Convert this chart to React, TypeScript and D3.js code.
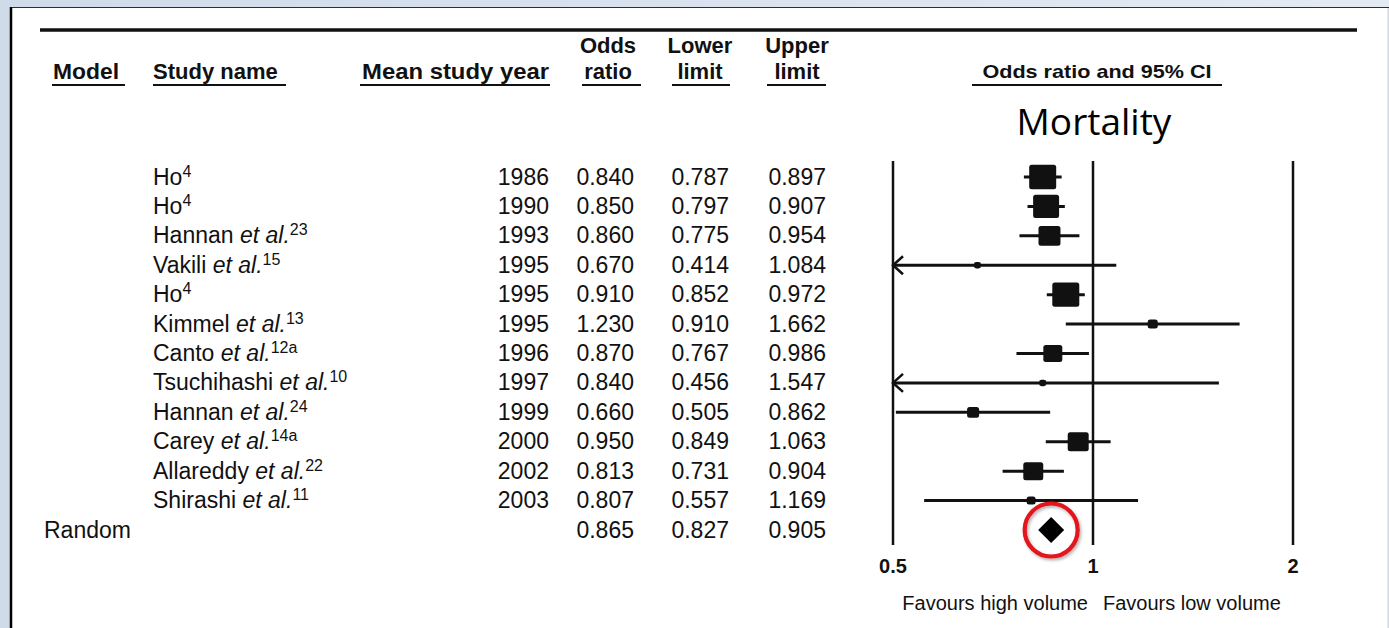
import React from "react";
import * as d3 from "d3";

const authors = ["Ho", "Ho", "Hannan", "Vakili", "Ho", "Kimmel", "Canto", "Tsuchihashi", "Hannan", "Carey", "Allareddy", "Shirashi"];
const etAl = [false, false, true, true, false, true, true, true, true, true, true, true];
const refs = ["4", "4", "23", "15", "4", "13", "12a", "10", "24", "14a", "22", "11"];
const years = [1986, 1990, 1993, 1995, 1995, 1995, 1996, 1997, 1999, 2000, 2002, 2003];
const oddsRatios = [0.84, 0.85, 0.86, 0.67, 0.91, 1.23, 0.87, 0.84, 0.66, 0.95, 0.813, 0.807];
const lowerLimits = [0.787, 0.797, 0.775, 0.414, 0.852, 0.91, 0.767, 0.456, 0.505, 0.849, 0.731, 0.557];
const upperLimits = [0.897, 0.907, 0.954, 1.084, 0.972, 1.662, 0.986, 1.547, 0.862, 1.063, 0.904, 1.169];
const weights = [17.2, 15.9, 11.4, 1.2, 17.2, 2.4, 8.5, 1.2, 3.4, 10.4, 9.4, 1.9];
const pooledLabel = "Random";
const pooledOR = 0.865;
const pooledLower = 0.827;
const pooledUpper = 0.905;
const xTicks = [0.5, 1, 2];
const outcomeTitle = "Mortality";
const favoursLeft = "Favours high volume";
const favoursRight = "Favours low volume";

const W = 1389;
const H = 628;
const FONT = "'Liberation Sans', Arial, Helvetica, sans-serif";
const INK = "#111";

export default function App() {
  const x = d3.scaleLog().base(2).domain([0.5, 2]).range([893, 1293]);
  const rows = d3.range(authors.length + 1);
  const y = d3.scalePoint<number>().domain(rows).range([177, 530]);
  const size = d3.scaleSqrt().domain([0, 17.2]).range([0, 27]);
  const fmt = d3.format(".3f");
  const [xMin, xMax] = x.domain();
  const plotTop = 161;
  const plotBottom = 545;
  const pooledY = y(authors.length) as number;

  const headerCols = [
    { top: "Odds", bottom: "ratio", cx: 608, u0: 582, u1: 641 },
    { top: "Lower", bottom: "limit", cx: 700, u0: 672, u1: 730 },
    { top: "Upper", bottom: "limit", cx: 797, u0: 767, u1: 826 },
  ];
  const numCols = [634, 729, 826];

  return (
    <svg
      width={W}
      height={H}
      style={{ position: "absolute", left: 0, top: 0, display: "block" }}
      fontFamily={FONT}
    >
      <defs>
        <linearGradient id="bg" x1="0" y1="0" x2="1" y2="0">
          <stop offset="0" stopColor="#cfdbe9" />
          <stop offset="1" stopColor="#e3eaf3" />
        </linearGradient>
        <filter id="shadow" x="-30%" y="-30%" width="160%" height="160%">
          <feDropShadow dx="1.5" dy="2" stdDeviation="1.5" floodColor="#000" floodOpacity="0.3" />
        </filter>
      </defs>
      <rect x={0} y={0} width={W} height={H} fill="url(#bg)" />
      <rect x={11} y={7} width={W - 12} height={H} fill="#fff" />
      <line x1={11} x2={W} y1={7.5} y2={7.5} stroke="#1f2d5a" strokeWidth={1} />
      <line x1={11} x2={11} y1={7} y2={H} stroke="#000" strokeWidth={2.5} />
      <line x1={W - 1} x2={W - 1} y1={8} y2={H} stroke="#cfcfcf" strokeWidth={1} />

      {/* top rule */}
      <line x1={40} x2={1357} y1={30} y2={30} stroke={INK} strokeWidth={3.5} />

      {/* headers */}
      <g fontWeight="bold" fontSize={22} fill={INK}>
        <text x={53} y={79} textLength={66} lengthAdjust="spacingAndGlyphs">Model</text>
        <text x={153} y={79}>Study name</text>
        <text x={362} y={79} textLength={187} lengthAdjust="spacingAndGlyphs">Mean study year</text>
        {headerCols.map((c, i) => (
          <g key={i}>
            <text x={c.cx} y={53} textAnchor="middle">{c.top}</text>
            <text x={c.cx} y={79} textAnchor="middle">{c.bottom}</text>
          </g>
        ))}
        <text
          transform={`translate(${(x(1) as number) + 4},78) scale(1.2,1)`}
          fontSize={18}
          textAnchor="middle"
        >
          Odds ratio and 95% CI
        </text>
      </g>
      <g stroke={INK} strokeWidth={2.2}>
        <line x1={52} x2={125} y1={85} y2={85} />
        <line x1={153} x2={286} y1={85} y2={85} />
        <line x1={360} x2={550} y1={85} y2={85} />
        {headerCols.map((c, i) => (
          <line key={i} x1={c.u0} x2={c.u1} y1={85} y2={85} />
        ))}
        <line x1={972} x2={1222} y1={85} y2={85} />
      </g>

      <text
        x={1094}
        y={135}
        fontFamily="'Open Sans', sans-serif"
        fontSize={37}
        textAnchor="middle"
        fill="#000"
      >
        {outcomeTitle}
      </text>

      {/* rows */}
      <g fontSize={23} fill={INK}>
        {authors.map((a, i) => {
          const yc = (y(i) as number) + 7.5;
          return (
            <g key={i}>
              <text x={153} y={yc}>
                {a}
                {etAl[i] ? <tspan fontStyle="italic"> et al.</tspan> : null}
                <tspan fontSize={16} dy={-8}>{refs[i]}</tspan>
              </text>
              <text x={549} y={yc} textAnchor="end">{years[i]}</text>
              <text x={numCols[0]} y={yc} textAnchor="end">{fmt(oddsRatios[i])}</text>
              <text x={numCols[1]} y={yc} textAnchor="end">{fmt(lowerLimits[i])}</text>
              <text x={numCols[2]} y={yc} textAnchor="end">{fmt(upperLimits[i])}</text>
            </g>
          );
        })}
        <text x={44} y={pooledY + 7.5}>{pooledLabel}</text>
        <text x={numCols[0]} y={pooledY + 7.5} textAnchor="end">{fmt(pooledOR)}</text>
        <text x={numCols[1]} y={pooledY + 7.5} textAnchor="end">{fmt(pooledLower)}</text>
        <text x={numCols[2]} y={pooledY + 7.5} textAnchor="end">{fmt(pooledUpper)}</text>
      </g>

      {/* reference lines */}
      <g stroke={INK} strokeWidth={2.5}>
        {xTicks.map((t) => (
          <line key={t} x1={x(t)} x2={x(t)} y1={plotTop} y2={plotBottom} />
        ))}
      </g>

      {/* CIs and squares */}
      <g>
        {authors.map((_, i) => {
          const yc = y(i) as number;
          const lo = Math.max(lowerLimits[i], xMin);
          const hi = Math.min(upperLimits[i], xMax);
          const x0 = x(lo) as number;
          const x1 = x(hi) as number;
          const s = size(weights[i]);
          const w = s;
          const h = s * 0.9;
          const cx = x(oddsRatios[i]) as number;
          return (
            <g key={i}>
              <line x1={x0} x2={x1} y1={yc} y2={yc} stroke={INK} strokeWidth={3} />
              {lowerLimits[i] < xMin ? (
                <path
                  d={`M${x0 + 10},${yc - 9}L${x0},${yc}L${x0 + 10},${yc + 9}`}
                  fill="none"
                  stroke={INK}
                  strokeWidth={2.5}
                />
              ) : null}
              {upperLimits[i] > xMax ? (
                <path
                  d={`M${x1 - 10},${yc - 9}L${x1},${yc}L${x1 - 10},${yc + 9}`}
                  fill="none"
                  stroke={INK}
                  strokeWidth={2.5}
                />
              ) : null}
              <rect
                x={cx - w / 2}
                y={yc - h / 2}
                width={w}
                height={h}
                rx={Math.min(2.5, s / 3)}
                fill={INK}
              />
            </g>
          );
        })}
      </g>

      {/* pooled diamond */}
      <path
        d={`M${x(pooledLower)},${pooledY}L${x(pooledOR)},${pooledY - 13}L${x(pooledUpper)},${pooledY}L${x(pooledOR)},${pooledY + 13}Z`}
        fill="#000"
      />
      <circle
        cx={x(pooledOR) as number}
        cy={pooledY}
        r={26.5}
        fill="none"
        stroke="#e3141c"
        strokeWidth={4.2}
        filter="url(#shadow)"
      />

      {/* axis labels */}
      <g fontSize={20} fontWeight="bold" fill={INK} textAnchor="middle">
        {xTicks.map((t) => (
          <text key={t} x={x(t)} y={573}>{String(t)}</text>
        ))}
      </g>
      <g fontSize={20} fill={INK}>
        <text x={(x(1) as number) - 5} y={610} textAnchor="end">{favoursLeft}</text>
        <text x={(x(1) as number) + 10} y={610}>{favoursRight}</text>
      </g>
    </svg>
  );
}
